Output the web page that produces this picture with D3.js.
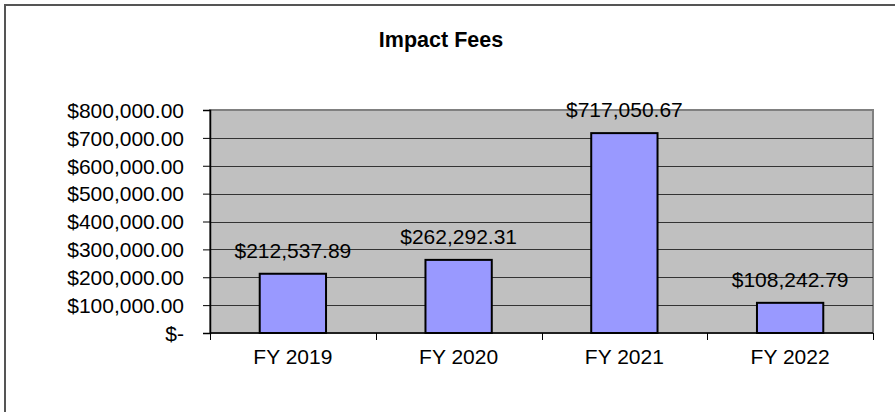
<!DOCTYPE html>
<html>
<head>
<meta charset="utf-8">
<script src="https://cdn.jsdelivr.net/npm/d3@7"></script>
<style>
  body { margin: 0; background: #fff; }
  svg text { font-family: "Liberation Sans", Arial, sans-serif; fill: #000; }
</style>
</head>
<body>
<div id="chart"></div>
<script>
// data
var categories = ["FY 2019", "FY 2020", "FY 2021", "FY 2022"];
var values = [212537.89, 262292.31, 717050.67, 108242.79];
var yTicks = [0, 100000, 200000, 300000, 400000, 500000, 600000, 700000, 800000];
var chartTitle = "Impact Fees";

var width = 895,
	height = 412;

var plotLeft = 210, plotRight = 873, plotTop = 110, plotBottom = 333;

var svg = d3.select("#chart").append("svg")
	.attr("width", width)
	.attr("height", height);

// outer chart border (runs off the right/bottom edge)
svg.append("rect")
	.attr("x", 5).attr("y", 5)
	.attr("width", 910).attr("height", 430)
	.attr("fill", "none")
	.attr("stroke", "#555")
	.attr("stroke-width", 2);

svg.append("text")
	.attr("x", 441).attr("y", 47)
	.attr("text-anchor", "middle")
	.style("font-size", "21.5px")
	.style("font-weight", "bold")
	.text(chartTitle);

var x = d3.scaleBand()
	.domain(categories)
	.range([plotLeft, plotRight])
	.paddingInner(0.6)
	.paddingOuter(0.3);

var y = d3.scaleLinear()
	.domain([0, 800000])
	.range([plotBottom, plotTop]);

// plot background
svg.append("rect")
	.attr("x", plotLeft).attr("y", plotTop)
	.attr("width", plotRight - plotLeft).attr("height", plotBottom - plotTop)
	.attr("fill", "#c0c0c0")
	.attr("stroke", "#808080")
	.attr("stroke-width", 2);

// gridlines
svg.selectAll(".grid")
	.data(yTicks.filter(function(d){ return d > 0 && d < 800000; }))
	.enter().append("line")
	.attr("class", "grid")
	.attr("x1", plotLeft).attr("x2", plotRight)
	.attr("y1", function(d){ return Math.round(y(d)) + 0.5; })
	.attr("y2", function(d){ return Math.round(y(d)) + 0.5; })
	.attr("stroke", "#333")
	.attr("stroke-width", 1);

// y axis
var fmt = d3.format(",.2f");
var yAxis = d3.axisLeft(y)
	.tickValues(yTicks)
	.tickSize(7)
	.tickPadding(19)
	.tickFormat(function(d){ return d === 0 ? "$-" : "$" + fmt(d); });

var gy = svg.append("g")
	.attr("transform", "translate(" + plotLeft + ",0)")
	.call(yAxis);
gy.select(".domain").attr("stroke", "#000").attr("stroke-width", 1.5);
gy.selectAll(".tick line").attr("stroke", "#000");
gy.selectAll(".tick text")
	.style("font-size", "21px")
	.attr("dy", "0.35em");

// bars
svg.selectAll(".bar")
	.data(values)
	.enter().append("rect")
	.attr("class", "bar")
	.attr("x", function(d, i){ return x(categories[i]); })
	.attr("y", function(d){ return y(d); })
	.attr("width", x.bandwidth())
	.attr("height", function(d){ return plotBottom - y(d); })
	.attr("fill", "#9999ff")
	.attr("stroke", "#000")
	.attr("stroke-width", 2);

// x axis line
var step = (plotRight - plotLeft) / categories.length;
var tickPos = d3.range(categories.length + 1).map(function(i){ return plotLeft + i * step; });

svg.append("line")
	.attr("x1", plotLeft).attr("x2", plotRight)
	.attr("y1", plotBottom).attr("y2", plotBottom)
	.attr("stroke", "#000")
	.attr("stroke-width", 1.5);

svg.selectAll(".xtick")
	.data(tickPos)
	.enter().append("line")
	.attr("class", "xtick")
	.attr("x1", function(d){ return Math.round(d) + 0.5; })
	.attr("x2", function(d){ return Math.round(d) + 0.5; })
	.attr("y1", plotBottom).attr("y2", plotBottom + 7)
	.attr("stroke", "#000");

svg.selectAll(".xlabel")
	.data(categories)
	.enter().append("text")
	.attr("class", "xlabel")
	.attr("x", function(d){ return x(d) + x.bandwidth() / 2; })
	.attr("y", 364)
	.attr("text-anchor", "middle")
	.style("font-size", "21px")
	.text(function(d){ return d; });

// value labels
svg.selectAll(".vlabel")
	.data(values)
	.enter().append("text")
	.attr("class", "vlabel")
	.attr("x", function(d, i){ return x(categories[i]) + x.bandwidth() / 2; })
	.attr("y", function(d){ return y(d) - 16; })
	.attr("text-anchor", "middle")
	.style("font-size", "21px")
	.text(function(d){ return "$" + fmt(d); });
</script>
</body>
</html>
